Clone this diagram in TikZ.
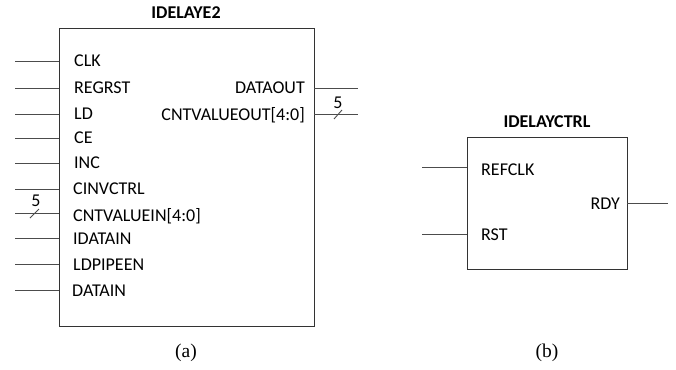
\documentclass[tikz,border=0pt]{standalone}
\usepackage{fontspec}
\setmainfont{Liberation Serif}
\newfontfamily\pinfont{Carlito}
\usepackage{xcolor}
\usepackage{tikz}
\usetikzlibrary{positioning, calc}

\begin{document}
\begin{tikzpicture}[
    x=1pt, y=-1pt,
    blk/.style={rectangle, draw=black!80, line width=0.9pt, inner sep=0pt},
    ttl/.style={font=\pinfont\bfseries\fontsize{18}{18}\selectfont, inner sep=0pt},
    pinl/.style={font=\pinfont\fontsize{18}{18}\selectfont, anchor=west, inner sep=0pt},
    pinr/.style={font=\pinfont\fontsize{18}{18}\selectfont, anchor=east, inner sep=0pt},
    wire/.style={draw=black!70, line width=0.9pt},
    subcap/.style={font=\fontsize{19.5}{19.5}\selectfont, inner sep=0pt},
]
\useasboundingbox (0,0) rectangle (676,369);

% IDELAYE2 block
\node[blk, minimum width=254.5pt, minimum height=298pt] (idly) at (186.75,177) {};
\node[ttl] (idlyttl) at (186,13) {IDELAYE2};
\node[pinl] (clk) at (74,61) {CLK};
\node[pinl] (regrst) at (74,88) {REGRST};
\node[pinl] (ld) at (74,114) {LD};
\node[pinl] (ce) at (74,138) {CE};
\node[pinl] (inc) at (74,163) {INC};
\node[pinl] (cinv) at (73,189) {CINVCTRL};
\node[pinl] (cntin) at (73,216) {CNTVALUEIN[4:0]};
\node[pinl] (idatain) at (73,239) {IDATAIN};
\node[pinl] (ldpipe) at (73,265) {LDPIPEEN};
\node[pinl] (datain) at (72,291) {DATAIN};
\node[pinr] (dataout) at (305,88) {DATAOUT};
\node[pinr] (cntout) at (305,115) {CNTVALUEOUT[4:0]};

\coordinate (clkw) at (15,61);
\coordinate (regrstw) at (15,88);
\coordinate (ldw) at (15,114);
\coordinate (cew) at (15,138);
\coordinate (incw) at (15,163);
\coordinate (cinvw) at (15,189);
\coordinate (cntinw) at (15,213);
\coordinate (idatainw) at (15,238);
\coordinate (ldpipew) at (15,264);
\coordinate (datainw) at (15,290);
\coordinate (dataoutw) at (358,88);
\coordinate (cntoutw) at (358,114);

\draw[wire] (clkw) -- (clkw -| idly.west);
\draw[wire] (regrstw) -- (regrstw -| idly.west);
\draw[wire] (ldw) -- (ldw -| idly.west);
\draw[wire] (cew) -- (cew -| idly.west);
\draw[wire] (incw) -- (incw -| idly.west);
\draw[wire] (cinvw) -- (cinvw -| idly.west);
\draw[wire] (cntinw) -- (cntinw -| idly.west);
\draw[wire] (idatainw) -- (idatainw -| idly.west);
\draw[wire] (ldpipew) -- (ldpipew -| idly.west);
\draw[wire] (datainw) -- (datainw -| idly.west);
\draw[wire] (dataoutw -| idly.east) -- (dataoutw);
\draw[wire] (cntoutw -| idly.east) -- (cntoutw);

% bus marks
\draw[wire] ($(cntinw)+(15,5)$) -- ($(cntinw)+(24,-4)$);
\node[pinl, anchor=center] (cntinbw) at ($(cntinw)+(21,-12)$) {5};
\draw[wire] ($(cntoutw)+(-24,5)$) -- ($(cntoutw)+(-16,-4)$);
\node[pinl, anchor=center] (cntoutbw) at ($(cntoutw)+(-20,-11)$) {5};

\node[subcap] (capa) at (186,353) {(a)};

% IDELAYCTRL block
\node[blk, minimum width=160pt, minimum height=132pt] (ictl) at (547,203) {};
\node[ttl] (ictlttl) at (547,122) {IDELAYCTRL};
\node[pinl] (refclk) at (481,170) {REFCLK};
\node[pinl] (rst) at (481,235) {RST};
\node[pinr] (rdy) at (620,204) {RDY};

\coordinate (refclkw) at (422,167);
\coordinate (rstw) at (422,234);
\coordinate (rdyw) at (668,203);

\draw[wire] (refclkw) -- (refclkw -| ictl.west);
\draw[wire] (rstw) -- (rstw -| ictl.west);
\draw[wire] (rdyw -| ictl.east) -- (rdyw);

\node[subcap] (capb) at (547,353) {(b)};
\end{tikzpicture}
\end{document}
